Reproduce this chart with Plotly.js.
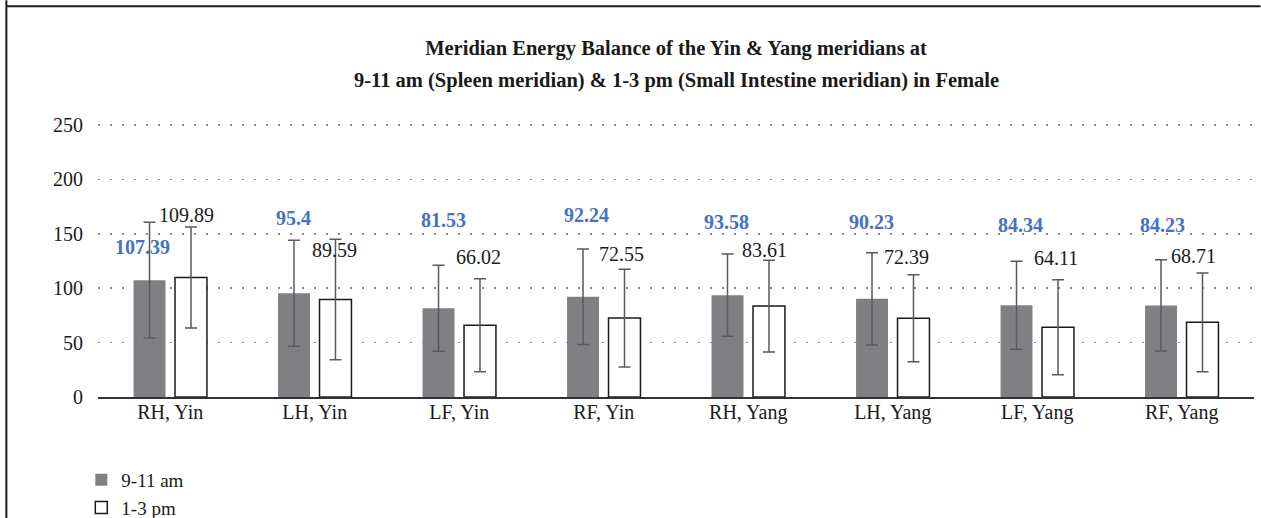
<!DOCTYPE html>
<html>
<head>
<meta charset="utf-8">
<script src="https://cdn.plot.ly/plotly-3.0.1.min.js"></script>
<style>
  html, body { margin: 0; padding: 0; background: #ffffff; }
  #chart { width: 1261px; height: 518px; }
</style>
</head>
<body>
<div id="chart"></div>
<script>
// Meridian groups on the x axis
const categories = ['RH, Yin', 'LH, Yin', 'LF, Yin', 'RF, Yin', 'RH, Yang', 'LH, Yang', 'LF, Yang', 'RF, Yang'];

// Mean energy values
const amValues = [107.39, 95.4, 81.53, 92.24, 93.58, 90.23, 84.34, 84.23];
const pmValues = [109.89, 89.59, 66.02, 72.55, 83.61, 72.39, 64.11, 68.71];

// Standard deviations (error bars)
const amSD = [53.2, 48.7, 39.5, 43.9, 37.8, 42.4, 40.4, 42.0];
const pmSD = [46.5, 55.4, 42.8, 44.9, 42.2, 40.0, 43.7, 45.4];

// Series names
const seriesNames = ['9-11 am', '1-3 pm'];

// Value-label placement (y in axis units, x offset in px from the category centre)
const amLabelY = [138.1, 164.2, 162.7, 167.3, 161.1, 161.1, 158.1, 158.1];
const amLabelDx = [-28, -21, -16, -17, -22, -21, -17, -19];
const pmLabelY = [167.3, 135.1, 128.4, 131.4, 135.1, 128.4, 127.5, 129.6];
const pmLabelDx = [16, 20, 19, 18, 16, 14, 19, 12];

const FONT = 'Liberation Serif, Times New Roman, serif';
const Y_MAX = 251;                     // a little headroom so the 250 gridline is drawn
const PX_PER_UNIT = 272 / 250;
const W = 1261, H = 518;
const M = { l: 97.7, r: 6.5, t: 125 - (Y_MAX - 250) * PX_PER_UNIT, b: 121, autoexpand: false };
const PW = W - M.l - M.r, PH = H - M.t - M.b;
const px2x = px => (px - M.l) / PW;
const px2y = py => (H - M.b - py) / PH;

const errStyle = { type: 'data', visible: true, color: '#5a5a5a', thickness: 1.5, width: 6 };

const traces = [
  {
    type: 'bar', name: seriesNames[0], x: categories, y: amValues,
    marker: { color: '#808084', line: { width: 0 } },
    error_y: Object.assign({ array: amSD }, errStyle),
    hoverinfo: 'x+y'
  },
  {
    type: 'bar', name: seriesNames[1], x: categories, y: pmValues,
    marker: { color: '#ffffff', line: { color: '#1a1a1a', width: 1.5 } },
    error_y: Object.assign({ array: pmSD }, errStyle),
    hoverinfo: 'x+y'
  }
];

const annotations = [];
categories.forEach((c, i) => {
  annotations.push({
    x: c, y: amLabelY[i], xref: 'x', yref: 'y', xshift: amLabelDx[i],
    text: '<b>' + amValues[i] + '</b>', showarrow: false,
    xanchor: 'center', yanchor: 'middle',
    font: { family: FONT, size: 20, color: '#4472c4' }
  });
  annotations.push({
    x: c, y: pmLabelY[i], xref: 'x', yref: 'y', xshift: pmLabelDx[i],
    text: String(pmValues[i]), showarrow: false,
    xanchor: 'center', yanchor: 'middle',
    font: { family: FONT, size: 20, color: '#1a1a1a' }
  });
});

// second title line
annotations.push({
  x: 0.5, y: px2y(80), xref: 'paper', yref: 'paper',
  text: '<b>9-11 am (Spleen meridian) &amp; 1-3 pm (Small Intestine meridian) in Female</b>',
  showarrow: false, xanchor: 'center', yanchor: 'middle',
  font: { family: FONT, size: 20.5, color: '#1a1a1a' }
});

// frame lines along the left and top edges
const shapes = [
  { type: 'line', xref: 'paper', yref: 'paper',
    x0: px2x(6), x1: px2x(6), y0: px2y(0), y1: px2y(H),
    line: { color: '#1a1a1a', width: 2 } },
  { type: 'line', xref: 'paper', yref: 'paper',
    x0: px2x(6), x1: px2x(W), y0: px2y(6), y1: px2y(6),
    line: { color: '#1a1a1a', width: 2 } }
];

const layout = {
  width: W, height: H,
  margin: M,
  paper_bgcolor: '#ffffff', plot_bgcolor: '#ffffff',
  font: { family: FONT, size: 20, color: '#1a1a1a' },
  title: {
    text: '<b>Meridian Energy Balance of the Yin &amp; Yang meridians at</b>',
    x: 0.5, xref: 'paper', y: 1 - 48 / H, yref: 'container',
    xanchor: 'center', yanchor: 'middle',
    font: { family: FONT, size: 20.5, color: '#1a1a1a' }
  },
  barmode: 'group',
  bargap: 0.426,
  bargroupgap: 0.23,
  xaxis: {
    type: 'category',
    showline: true, linecolor: '#333333', linewidth: 1.5,
    showgrid: false, zeroline: false, ticks: '',
    ticklabelstandoff: -4,
    tickfont: { family: FONT, size: 20, color: '#1a1a1a' }
  },
  yaxis: {
    range: [0, Y_MAX], tickvals: [0, 50, 100, 150, 200, 250],
    showline: false, zeroline: false, ticks: '',
    showgrid: true, gridcolor: '#8a8a8a', gridwidth: 1.5, griddash: '1.5px,10.5px',
    ticklabelstandoff: 14,
    tickfont: { family: FONT, size: 20, color: '#1a1a1a' }
  },
  showlegend: true,
  legend: {
    orientation: 'v',
    x: px2x(81), xanchor: 'left',
    y: px2y(461), yanchor: 'top',
    bgcolor: 'rgba(0,0,0,0)',
    font: { family: FONT, size: 19, color: '#1a1a1a' },
    tracegroupgap: 0, itemwidth: 30
  },
  annotations: annotations,
  shapes: shapes
};

Plotly.newPlot('chart', traces, layout, { displayModeBar: false, staticPlot: true });
</script>
</body>
</html>
